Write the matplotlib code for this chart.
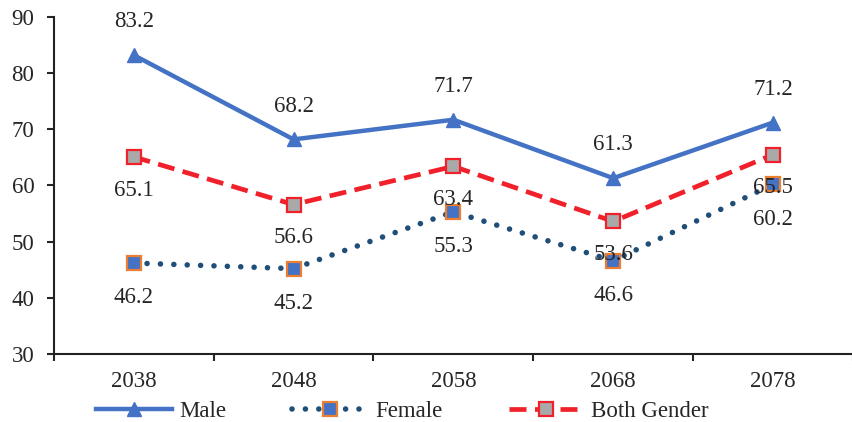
import matplotlib
matplotlib.use('Agg')
import matplotlib.pyplot as plt
import numpy as np

years = ['2038', '2048', '2058', '2068', '2078']
male = [83.2, 68.2, 71.7, 61.3, 71.2]
female = [46.2, 45.2, 55.3, 46.6, 60.2]
both = [65.1, 56.6, 63.4, 53.6, 65.5]

plt.rcParams.update({
    'font.family': 'Liberation Serif',
    'font.size': 16.5,
    'text.color': '#262626',
    'xtick.color': '#262626',
    'ytick.color': '#262626',
})

fig = plt.figure(figsize=(8.53, 4.22), dpi=100)
ax = fig.add_axes([0.063, 0.161, 0.937, 0.799])

x = np.arange(len(years))

ax.plot(x, male, color='#4472C4', linewidth=3.2, marker='^', markersize=10,
        label='Male', zorder=3)
ax.plot(x, female, color='#1F4E79', linewidth=4, linestyle=(0, (0.01, 2.4)),
        dash_capstyle='round', marker='s', markersize=10,
        markerfacecolor='#4472C4', markeredgecolor='#ED7D31', markeredgewidth=1.6,
        label='Female', zorder=3)
ax.plot(x, both, color='#F0212B', linewidth=3.4, linestyle=(0, (3.6, 1.8)),
        marker='s', markersize=10,
        markerfacecolor='#A9A9A9', markeredgecolor='#F0212B', markeredgewidth=1.6,
        label='Both Gender', zorder=3)

for xi, v in zip(x, male):
    ax.annotate(f'{v:.1f}', (xi, v), xytext=(0, 24), textcoords='offset points',
                ha='center', va='center')
for xi, v in zip(x, both):
    ax.annotate(f'{v:.1f}', (xi, v), xytext=(0, -24), textcoords='offset points',
                ha='center', va='center')
for xi, v in zip(x, female):
    ax.annotate(f'{v:.1f}', (xi, v), xytext=(0, -25), textcoords='offset points',
                ha='center', va='center')

ax.set_xlim(-0.5, len(years) - 0.5)
ax.set_ylim(30, 90)
ax.set_yticks(range(30, 91, 10))
ax.set_xticks(x)
ax.set_xticklabels(years)
ax.set_xticks(np.arange(-0.5, len(years), 1.0), minor=True)
ax.tick_params(axis='x', which='major', length=0, pad=12)
ax.tick_params(axis='x', which='minor', length=5, width=1.5, direction='out')
ax.tick_params(axis='y', length=5, width=1.5, direction='out', pad=9)

for s in ['top', 'right']:
    ax.spines[s].set_visible(False)
for s in ['left', 'bottom']:
    ax.spines[s].set_linewidth(1.5)
    ax.spines[s].set_color('#222222')

fig.legend(loc='center', bbox_to_anchor=(0.472, 0.025), ncol=3, frameon=False,
           handlelength=3.3, columnspacing=2.9, handletextpad=0.3,
           borderaxespad=0, borderpad=0)

fig.savefig('out.png', dpi=100)
